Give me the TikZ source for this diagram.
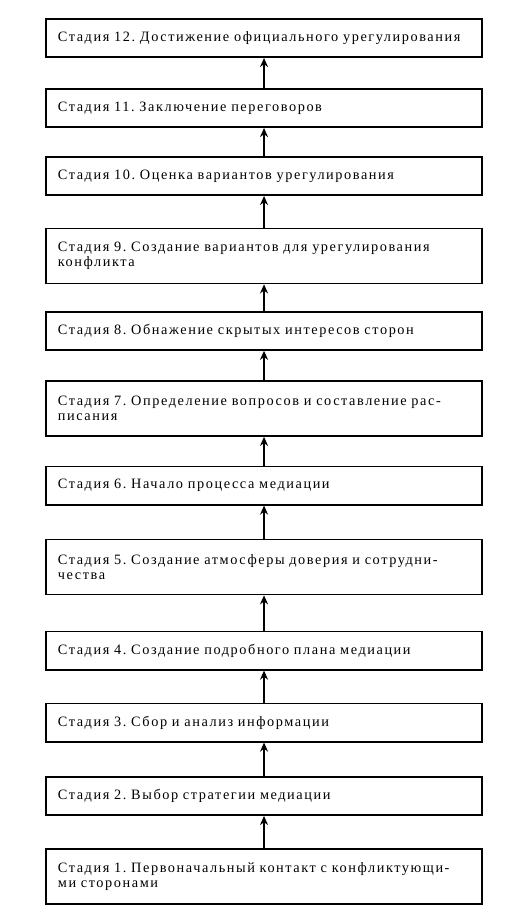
\documentclass[tikz,border=0pt]{standalone}
\usepackage{fontspec}
\setmainfont[LetterSpace=11, WordSpace=1.6]{Liberation Serif}
\usepackage{tikz}
\usetikzlibrary{arrows.meta, positioning, calc}

\begin{document}
\frenchspacing
\begin{tikzpicture}[
    stage/.style={rectangle, draw, line width=1.6pt, minimum width=15.33cm, minimum height=1.34cm, text width=14.49cm, inner xsep=12pt, align=left, font=\fontsize{14.3}{14.8}\selectfont},
    arrow/.style={-{Stealth[length=3.2mm, width=2.8mm]}, line width=1.5pt}
]
\useasboundingbox (0,0) rectangle (18.35,-32.16);
\node[stage] (s12) at (9.28,-1.34) {Стадия 12. Достижение официального урегулирования};
\node[stage] (s11) at (9.28,-3.80) {Стадия 11. Заключение переговоров};
\node[stage] (s10) at (9.28,-6.19) {Стадия 10. Оценка вариантов урегулирования};
\node[stage, minimum height=1.93cm] (s9) at (9.28,-9.00) {Стадия 9. Создание вариантов для урегулирования\\конфликта};
\node[stage] (s8) at (9.28,-11.63) {Стадия 8. Обнажение скрытых интересов сторон};
\node[stage, minimum height=1.93cm] (s7) at (9.28,-14.36) {Стадия 7. Определение вопросов и составление рас-\\писания};
\node[stage] (s6) at (9.28,-17.07) {Стадия 6. Начало процесса медиации};
\node[stage, minimum height=1.93cm] (s5) at (9.28,-19.93) {Стадия 5. Создание атмосферы доверия и сотрудни-\\чества};
\node[stage] (s4) at (9.28,-22.87) {Стадия 4. Создание подробного плана медиации};
\node[stage] (s3) at (9.28,-25.40) {Стадия 3. Сбор и анализ информации};
\node[stage] (s2) at (9.28,-27.98) {Стадия 2. Выбор стратегии медиации};
\node[stage, minimum height=1.93cm] (s1) at (9.28,-30.81) {Стадия 1. Первоначальный контакт с конфликтующи-\\ми сторонами};

\draw[arrow] (s1) -- (s2);
\draw[arrow] (s2) -- (s3);
\draw[arrow] (s3) -- (s4);
\draw[arrow] (s4) -- (s5);
\draw[arrow] (s5) -- (s6);
\draw[arrow] (s6) -- (s7);
\draw[arrow] (s7) -- (s8);
\draw[arrow] (s8) -- (s9);
\draw[arrow] (s9) -- (s10);
\draw[arrow] (s10) -- (s11);
\draw[arrow] (s11) -- (s12);
\end{tikzpicture}
\end{document}
